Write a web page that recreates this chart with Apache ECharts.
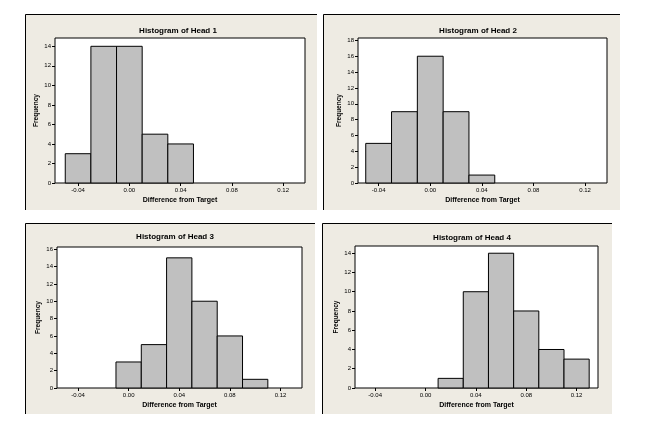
<!DOCTYPE html>
<html>
<head>
<meta charset="utf-8">
<script src="https://cdn.jsdelivr.net/npm/echarts@6/dist/echarts.min.js"></script>
<style>html,body{margin:0;padding:0;background:#fff}#c{width:668px;height:442px}</style>
</head>
<body>
<div id="c"></div>
<script>
// Data: bin centers (width 0.02) and frequencies for each head
var binWidth = 0.02;
var head1Bins = [-0.04, -0.02, 0.00, 0.02, 0.04];
var head1Counts = [3, 14, 14, 5, 4];
var head2Bins = [-0.04, -0.02, 0.00, 0.02, 0.04];
var head2Counts = [5, 9, 16, 9, 1];
var head3Bins = [0.00, 0.02, 0.04, 0.06, 0.08, 0.10];
var head3Counts = [3, 5, 15, 10, 6, 1];
var head4Bins = [0.02, 0.04, 0.06, 0.08, 0.10, 0.12];
var head4Counts = [1, 10, 14, 8, 4, 3];
var titles = ['Histogram of Head 1', 'Histogram of Head 2', 'Histogram of Head 3', 'Histogram of Head 4'];
var xTicks = [-0.04, 0.00, 0.04, 0.08, 0.12];
var yTicks1 = [0, 2, 4, 6, 8, 10, 12, 14];
var yTicks2 = [0, 2, 4, 6, 8, 10, 12, 14, 16, 18];
var yTicks3 = [0, 2, 4, 6, 8, 10, 12, 14, 16];
var yTicks4 = [0, 2, 4, 6, 8, 10, 12, 14];
var xName = 'Difference from Target';
var yName = 'Frequency';

var FONT = 'Liberation Sans';
var bins = [head1Bins, head2Bins, head3Bins, head4Bins];
var counts = [head1Counts, head2Counts, head3Counts, head4Counts];
var yTicks = [yTicks1, yTicks2, yTicks3, yTicks4];
var yMax = [14.85, 18.3, 16.25, 14.75];
var xMin = [-0.058, -0.056, -0.0566, -0.056], xMax = 0.137;

var grids = [
  {left: 55, top: 38, width: 250, height: 145},
  {left: 358, top: 38, width: 249, height: 145},
  {left: 57, top: 247, width: 245, height: 141},
  {left: 355, top: 246, width: 243, height: 142}
];
var titlePos = [[173, 22], [473, 22], [170, 228], [467, 229]];
var panels = [
  [25, 14, 292, 196],
  [323, 14, 297, 196],
  [25, 223, 290, 191],
  [322, 223, 290, 191]
];

var graphics = [];
panels.forEach(function (p) {
  graphics.push({type: 'rect', z: -10, shape: {x: p[0], y: p[1], width: p[2], height: p[3]}, style: {fill: '#EEEBE3'}});
  graphics.push({type: 'polyline', z: -9, shape: {points: [[p[0] + 0.5, p[1] + p[3]], [p[0] + 0.5, p[1] + 0.5], [p[0] + p[2], p[1] + 0.5]]}, style: {stroke: '#000', lineWidth: 1, fill: null}});
});

var option = {
  animation: false,
  backgroundColor: '#ffffff',
  graphic: {elements: graphics},
  title: titles.map(function (t, i) {
    return {text: t, left: titlePos[i][0], top: titlePos[i][1], textAlign: 'center',
      textStyle: {fontFamily: FONT, fontSize: 8, fontWeight: 'bold', color: '#000'}};
  }),
  grid: grids.map(function (g) {
    return {left: g.left, top: g.top, width: g.width, height: g.height, show: true,
      backgroundColor: '#ffffff', borderColor: '#000', borderWidth: 1};
  }),
  xAxis: grids.map(function (g, i) {
    return {type: 'value', gridIndex: i, min: xMin[i], max: xMax,
      name: xName, nameLocation: 'middle', nameGap: 14,
      nameTextStyle: {fontFamily: FONT, fontSize: 7, fontWeight: 'bold', color: '#000'},
      axisLine: {show: false, onZero: false}, splitLine: {show: false},
      axisTick: {show: true, length: 3, lineStyle: {color: '#000'}, customValues: xTicks},
      axisLabel: {fontFamily: FONT, fontSize: 6, color: '#000', margin: 4, customValues: xTicks,
        formatter: function (v) { return v.toFixed(2); }}};
  }),
  yAxis: grids.map(function (g, i) {
    return {type: 'value', gridIndex: i, min: 0, max: yMax[i],
      name: yName, nameLocation: 'middle', nameGap: 15,
      nameTextStyle: {fontFamily: FONT, fontSize: 6.5, fontWeight: 'bold', color: '#000'},
      axisLine: {show: false, onZero: false}, splitLine: {show: false},
      axisTick: {show: true, length: 3, lineStyle: {color: '#000'}, customValues: yTicks[i]},
      axisLabel: {fontFamily: FONT, fontSize: 6, color: '#000', margin: 4, customValues: yTicks[i]}};
  }),
  series: bins.map(function (b, i) {
    return {
      type: 'custom', xAxisIndex: i, yAxisIndex: i,
      data: b.map(function (c, k) { return [c - binWidth / 2, c + binWidth / 2, counts[i][k]]; }),
      encode: {x: [0, 1], y: 2},
      renderItem: function (params, api) {
        var p0 = api.coord([api.value(0), api.value(2)]);
        var p1 = api.coord([api.value(1), 0]);
        return {type: 'rect', shape: {x: p0[0], y: p0[1], width: p1[0] - p0[0], height: p1[1] - p0[1]},
          style: {fill: '#C0C0C0', stroke: '#000', lineWidth: 1}};
      }
    };
  })
};
var chart = echarts.init(document.getElementById('c'), null, {renderer: 'canvas'});
chart.setOption(option);
</script>
</body>
</html>
